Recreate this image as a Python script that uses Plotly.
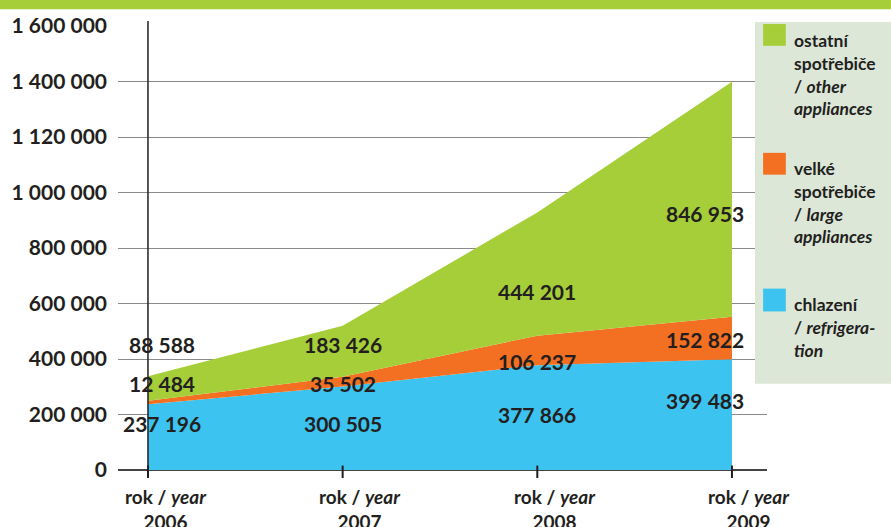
import plotly.graph_objects as go

years = [2006, 2007, 2008, 2009]
year_labels = ["rok / <i>year</i><br>2006", "rok / <i>year</i><br>2007",
               "rok / <i>year</i><br>2008", "rok / <i>year</i><br>2009"]
refrigeration = [237196, 300505, 377866, 399483]
large_appliances = [12484, 35502, 106237, 152822]
other_appliances = [88588, 183426, 444201, 846953]
y_tick_vals = [0, 200000, 400000, 600000, 800000, 1000000, 1200000, 1400000, 1600000]
y_tick_text = ["0", "200 000", "400 000", "600 000", "800 000", "1 000 000",
               "1 120 000", "1 400 000", "1 600 000"]
legend_names = ["ostatní<br>spotřebiče<br>/ <i>other</i><br><i>appliances</i>",
                "velké<br>spotřebiče<br>/ <i>large</i><br><i>appliances</i>",
                "chlazení<br>/ <i>refrigera-</i><br><i>tion</i>"]

BLUE = "#3cc3f0"
ORANGE = "#f36f21"
GREEN = "#a6ce39"
TXT = "#231f20"
FONT = "Lato"

def fmt(v):
    return f"{v:,}".replace(",", " ")

fig = go.Figure()
series = [(refrigeration, BLUE), (large_appliances, ORANGE), (other_appliances, GREEN)]
for vals, col in series:
    fig.add_trace(go.Scatter(x=years, y=vals, stackgroup="one", mode="none",
                             fillcolor=col, line=dict(width=0), showlegend=False,
                             hoverinfo="skip"))

# value label placement (x offset in years, y in data units)
label_x = [2006.07, 2007.0, 2008.0, 2008.86]
label_y_ref = [168000, 168000, 201000, 251000]
label_y_large = [311000, 311000, 390000, 472000]
label_y_other = [451000, 451000, 644000, 926000]

annotations = []
for i in range(4):
    for vals, ly in [(refrigeration, label_y_ref), (large_appliances, label_y_large),
                     (other_appliances, label_y_other)]:
        annotations.append(dict(x=label_x[i], y=ly[i], xref="x", yref="y",
                                text=f"<b>{fmt(vals[i])}</b>", showarrow=False,
                                font=dict(family=FONT, size=21, color=TXT)))

# x tick labels
for yr, lab in zip(years, year_labels):
    annotations.append(dict(x=yr + 0.09, y=-0.03, xref="x", yref="paper", yanchor="top",
                            text=f"<b>{lab}</b>", showarrow=False,
                            font=dict(family=FONT, size=19, color=TXT)))

# legend
leg_sq_y = [(1.0044, 0.9554), (0.7143, 0.6652), (0.4085, 0.3571)]
leg_cols = [GREEN, ORANGE, BLUE]
shapes = [
    dict(type="rect", xref="paper", yref="paper", x0=-0.2, x1=1.2, y0=1.038, y1=1.06,
         fillcolor=GREEN, line=dict(width=0)),
    dict(type="rect", xref="paper", yref="paper", x0=0.9815, x1=1.2, y0=0.194, y1=1.009,
         fillcolor="#dce7d8", line=dict(width=0)),
    dict(type="line", xref="x", yref="paper", x0=2006, x1=2006, y0=0, y1=1.011,
         line=dict(color="#231f20", width=1.5)),
]
for yr in years:
    shapes.append(dict(type="line", xref="x", yref="paper", x0=yr, x1=yr, y0=0.01, y1=-0.018,
                       line=dict(color="#231f20", width=2)))
for (y1, y0), col, name in zip(leg_sq_y, leg_cols, legend_names):
    shapes.append(dict(type="rect", xref="paper", yref="paper", x0=0.994, x1=1.029,
                       y0=y0, y1=y1, fillcolor=col, line=dict(width=0)))
    annotations.append(dict(x=1.038, y=y1 - 0.008, xref="paper", yref="paper",
                            xanchor="left", yanchor="top", align="left",
                            text=f"<b>{name}</b>", showarrow=False,
                            font=dict(family=FONT, size=17.5, color=TXT)))

fig.update_layout(
    width=891, height=527,
    margin=dict(l=118, r=124, t=22, b=57),
    paper_bgcolor="white", plot_bgcolor="white",
    showlegend=False,
    xaxis=dict(range=[2005.846, 2009.18], showgrid=False, zeroline=False,
               showticklabels=False, ticks="", fixedrange=True),
    yaxis=dict(range=[0, 1600000], tickvals=y_tick_vals, ticktext=[f"<b>{t}</b>" for t in y_tick_text],
               showgrid=True, gridcolor="#8a8a8a", gridwidth=1.2,
               zeroline=True, zerolinecolor="#444444", zerolinewidth=2,
               ticks="", ticklabelstandoff=10,
               tickfont=dict(family=FONT, size=21, color=TXT)),
    shapes=shapes,
    annotations=annotations,
)

fig.write_html("out.html", config={"displayModeBar": False},
               post_script="document.body.style.margin='0';document.body.style.overflow='hidden';")
